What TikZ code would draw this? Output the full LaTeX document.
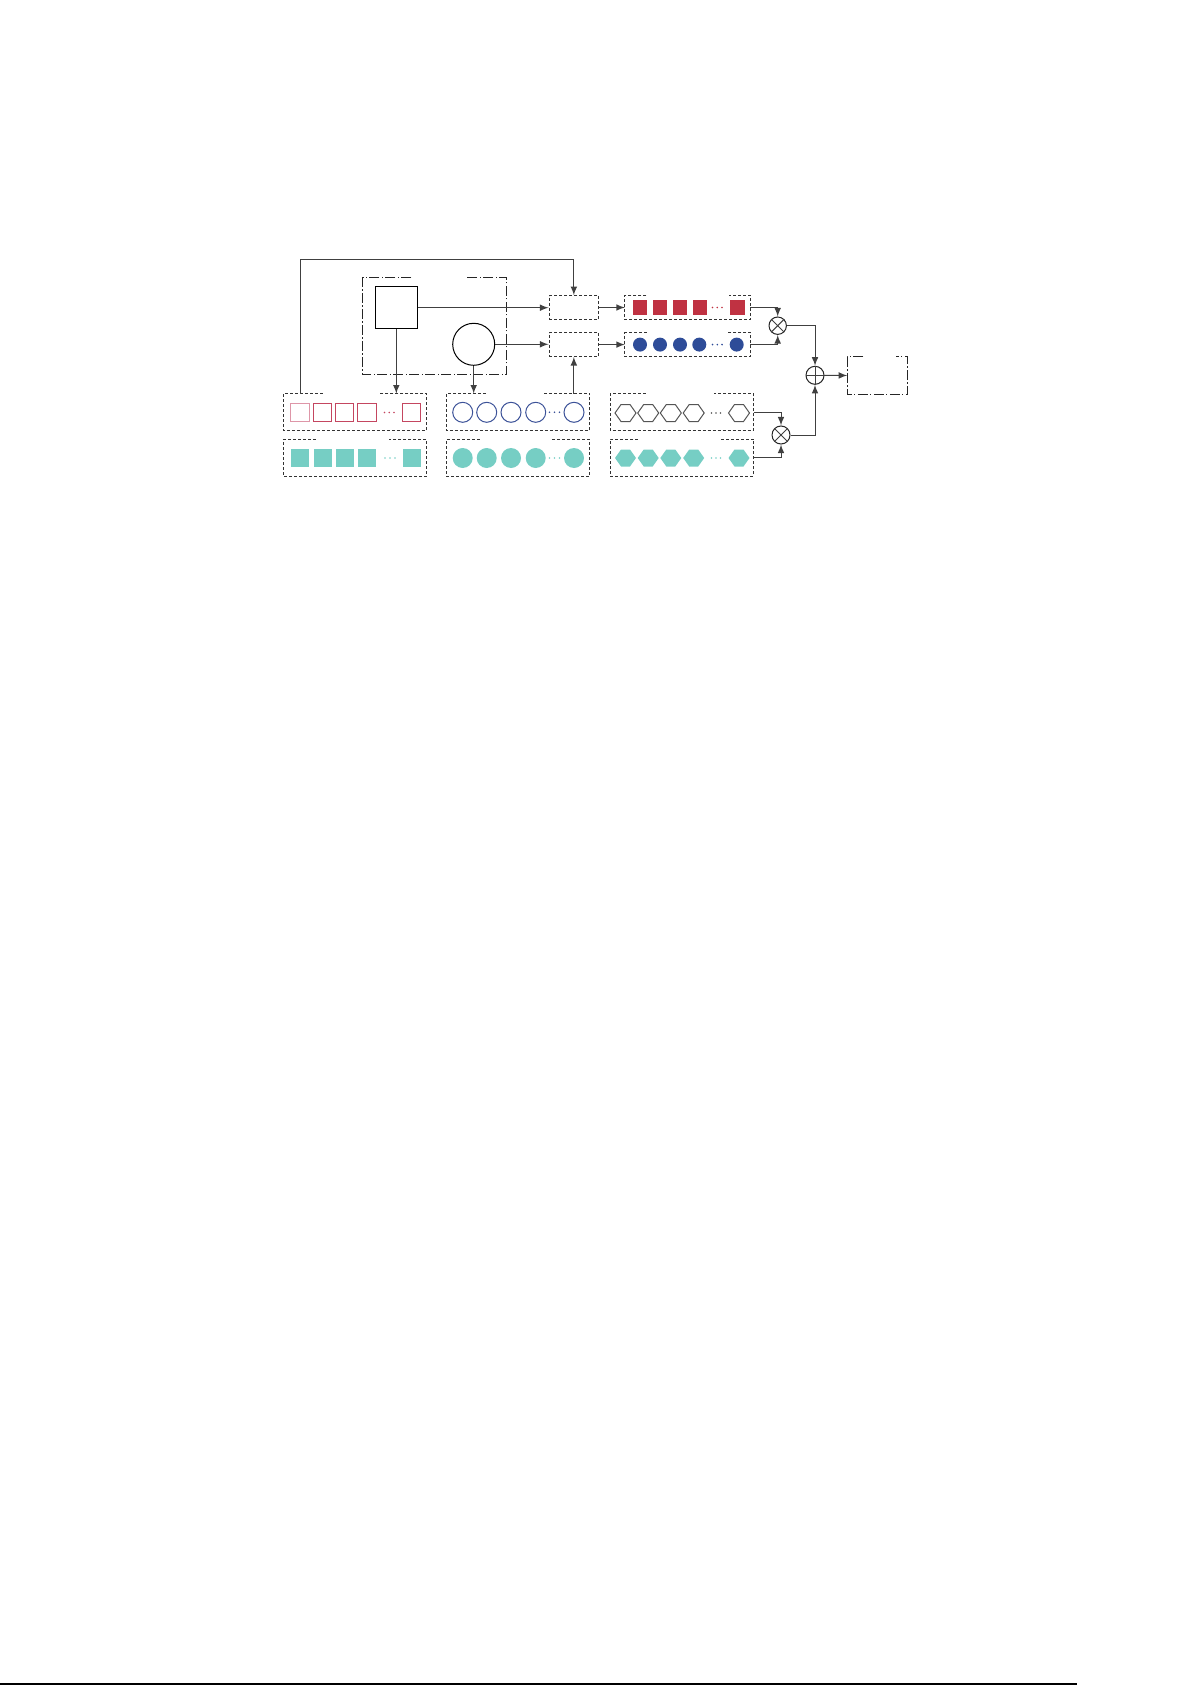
\documentclass[tikz,border=0pt]{standalone}
\usetikzlibrary{positioning}
\definecolor{crim}{RGB}{192,50,66}
\definecolor{navy}{RGB}{46,76,152}
\definecolor{mint}{RGB}{118,206,196}
\definecolor{sqline}{RGB}{196,70,96}
\definecolor{sqpale}{RGB}{222,150,168}
\definecolor{ciline}{RGB}{60,82,152}
\definecolor{hxline}{RGB}{85,85,85}
\tikzset{
  conn/.style = {black!75, line width=0.5pt},
  dbox/.style = {draw=black!80, line width=0.5pt, dash pattern=on 1.5pt off 1pt,
                 minimum width=24.85pt, minimum height=11.8pt, inner sep=0pt},
  rowbox/.style = {minimum width=71.3pt, minimum height=18pt, inner sep=0pt},
  seqbox/.style = {minimum width=62.35pt, minimum height=11.8pt, inner sep=0pt},
  dashbrd/.style = {black!80, line width=0.5pt, dash pattern=on 1.5pt off 1pt},
  dotbrd/.style = {black!85, line width=0.5pt, dash pattern=on 5pt off 1.2pt on 0.6pt off 1.2pt},
  opnode/.style = {draw=black!85, circle, line width=0.5pt, minimum size=9pt, inner sep=0pt}
}
% box outline with an open stretch in its top edge
\newcommand{\gapbox}[4]{\draw[#1] ([xshift=#3]#2.north west) -- (#2.north west) -- (#2.south west)
  -- (#2.south east) -- (#2.north east) -- ([xshift=-#4]#2.north east);}
\begin{document}
\begin{tikzpicture}[x=0.5pt, y=-0.5pt, >=latex]
   \useasboundingbox (0,0) rectangle (1192,1685);
   % model
   \node[rowbox, minimum width=71.5pt, minimum height=48.15pt] (model) at (434.8,325.85) {};
   \node[draw, line width=0.5pt, minimum size=21pt, inner sep=0pt] (sq) at (396.3,307.7) {};
   \node[draw, circle, line width=0.5pt, minimum size=21pt, inner sep=0pt] (ci) at (473.7,344.3) {};
   \gapbox{dotbrd}{model}{24.2pt}{20.15pt}
   % small boxes and sequences
   \node[dbox] (fa) at (573.85,307.5) {};
   \node[dbox] (fb) at (573.85,344.6) {};
   \node[seqbox] (red) at (687.65,307.5) {};
   \node[seqbox] (blue) at (687.65,344.6) {};
   \gapbox{dashbrd}{red}{10.7pt}{10.65pt}
   \gapbox{dashbrd}{blue}{10.85pt}{12pt}
   % rows
   \node[rowbox] (hsq) at (355,412) {};
   \node[rowbox] (hci) at (518.15,412) {};
   \node[rowbox] (hhx) at (681.8,412.15) {};
   \node[rowbox] (tsq) at (355,457.75) {};
   \node[rowbox] (tci) at (518.15,457.75) {};
   \node[rowbox] (thx) at (681.8,457.75) {};
   \gapbox{dashbrd}{hsq}{19.8pt}{23.15pt}
   \gapbox{dashbrd}{hci}{19.85pt}{23pt}
   \gapbox{dashbrd}{hhx}{17.85pt}{19.65pt}
   \gapbox{dashbrd}{tsq}{16.15pt}{18.65pt}
   \gapbox{dashbrd}{tci}{16.65pt}{19.65pt}
   \gapbox{dashbrd}{thx}{14pt}{16.15pt}
   % operators and output
   \node[opnode, minimum size=8.7pt] (mul1) at (777.7,325.7) {};
   \node[opnode] (add) at (815,375.3) {};
   \node[opnode] (mul2) at (781,435) {};
   \node[minimum width=29.65pt, minimum height=18.35pt, inner sep=0pt] (out) at (877.35,375.65) {};
   \gapbox{dotbrd}{out}{8pt}{5.5pt}
   \draw[conn] (mul1.north west) -- (mul1.south east) (mul1.north east) -- (mul1.south west);
   \draw[conn] (mul2.north west) -- (mul2.south east) (mul2.north east) -- (mul2.south west);
   \draw[conn] (add.north) -- (add.south) (add.west) -- (add.east);
   % shapes
   \foreach \x in {640,660,680,700,737.3}
      \fill[crim] (\x-7.35,300.15) rectangle ++(14.7,14.7);
   \foreach \x in {640,660,680,699.3,736.7}
      \fill[navy] (\x,344.6) circle (3.5pt);
   \draw[sqpale, line width=0.5pt] (300-9.25,403.25) rectangle ++(18.5,18.5);
   \foreach \x in {322.5,344.7,367.2,411.7}
      \draw[sqline, line width=0.5pt] (\x-9.25,403.25) rectangle ++(18.5,18.5);
   \foreach \x in {462.7,486.7,511,535.7,574}
      \draw[ciline, line width=0.5pt] (\x,412.3) circle (5pt);
   \foreach \x in {625.5,648.2,670.8,693.7,739}
      \draw[hxline, line width=0.5pt] (\x-10.5,413) -- ++(6,-8.5) -- ++(9,0) -- ++(6,8.5)
         -- ++(-6,8.5) -- ++(-9,0) -- cycle;
   \foreach \x in {300,322.5,344.7,367.2,411.7}
      \fill[mint] (\x-9,449) rectangle ++(18,18);
   \foreach \x in {462.7,486.7,511,535.7,574}
      \fill[mint] (\x,458) circle (5pt);
   \foreach \x in {625.5,648.2,670.8,693.7,739}
      \fill[mint] (\x-10.5,458) -- ++(6,-8.5) -- ++(9,0) -- ++(6,8.5)
         -- ++(-6,8.5) -- ++(-9,0) -- cycle;
   % dots
   \foreach \x in {712.5,717.3,722} \fill[crim] (\x,307.5) circle (0.45pt);
   \foreach \x in {712.5,717.3,722} \fill[navy] (\x,344.6) circle (0.45pt);
   \foreach \x in {384.5,389.3,394} \fill[sqline] (\x,412.5) circle (0.45pt);
   \foreach \x in {549.5,554.5,559.5} \fill[ciline] (\x,412.3) circle (0.45pt);
   \foreach \x in {711.5,716,720.5} \fill[hxline] (\x,413) circle (0.45pt);
   \foreach \x in {385,390,395} \fill[mint] (\x,458) circle (0.45pt);
   \foreach \x in {549.5,554.5,559.5} \fill[mint] (\x,458) circle (0.45pt);
   \foreach \x in {711.5,716,720.5} \fill[mint] (\x,458) circle (0.45pt);
   % connectors
   \coordinate (fbk) at (300.7,259.3);
   \draw[conn,->] (fbk |- hsq.north) -- (fbk) -| (fa.north);
   \draw[conn,->] (sq.east) -- (sq.east -| fa.west);
   \draw[conn,->] (ci.east) -- (ci.east -| fb.west);
   \draw[conn,->] (sq.south) -- (sq.south |- hsq.north);
   \draw[conn,->] (ci.south) -- (ci.south |- hci.north);
   \draw[conn,->] (fb.south |- hci.north) -- (fb.south);
   \draw[conn,->] (fa) -- (red);
   \draw[conn,->] (fb) -- (blue);
   \draw[conn,->] (red.east) -| (mul1.north);
   \draw[conn,->] (blue.east) -| (mul1.south);
   \draw[conn,->] (mul1.east) -| (add.north);
   \draw[conn,->] (add) -- (out);
   \draw[conn,->] (hhx.east) -| (mul2.north);
   \draw[conn,->] (thx.east) -| (mul2.south);
   \draw[conn,->] (mul2.east) -| (add.south);
   % page rule
   \draw[line width=1pt] (0,1684) -- (1077,1684);
\end{tikzpicture}
\end{document}
